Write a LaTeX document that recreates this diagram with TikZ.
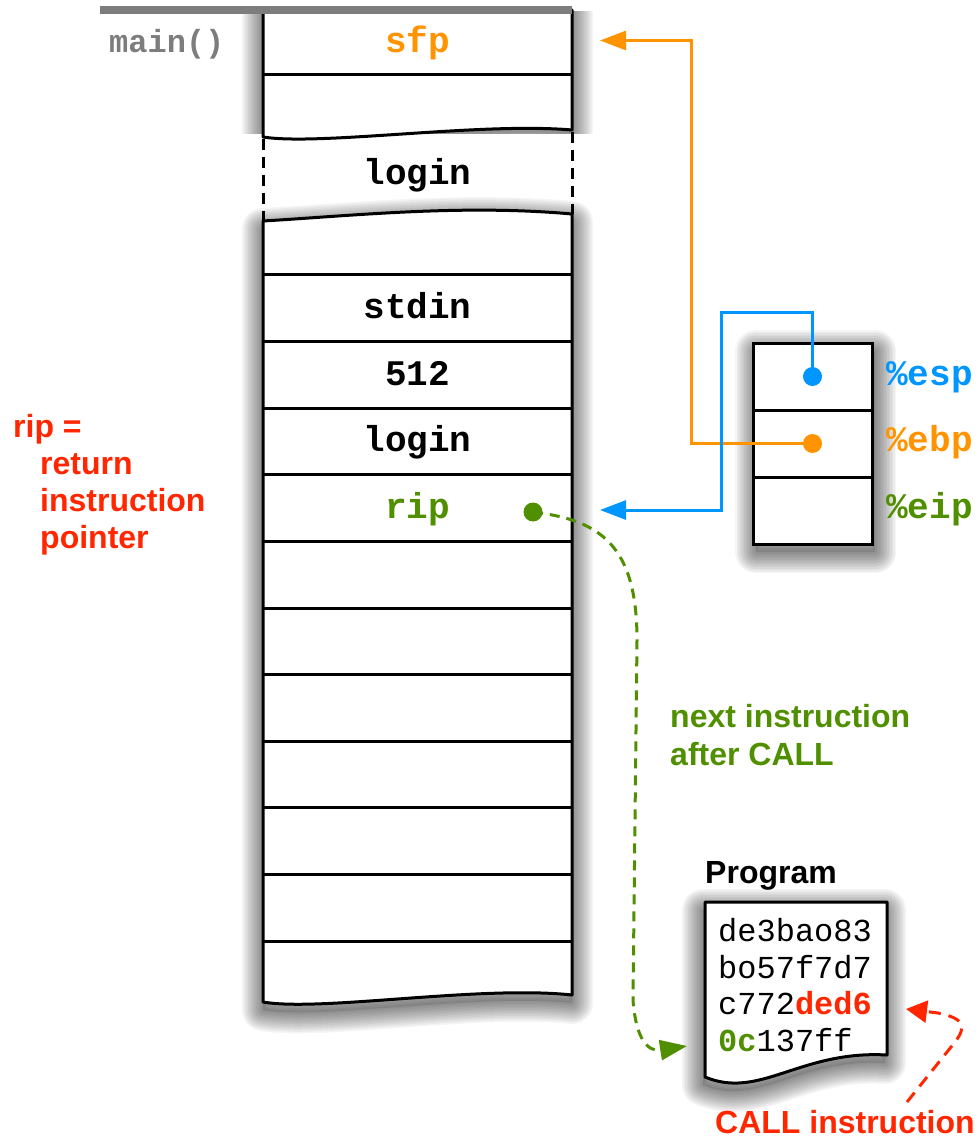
\documentclass[tikz,border=0pt]{standalone}
\usepackage{fontspec}
\setmainfont{Liberation Sans}
\setsansfont{Liberation Sans}
\setmonofont{Liberation Mono}
\usetikzlibrary{arrows.meta}
\definecolor{tang}{RGB}{255,147,0}
\definecolor{aqua}{RGB}{0,150,255}
\definecolor{clover}{RGB}{79,143,0}
\definecolor{redc}{RGB}{255,38,0}
\definecolor{graym}{RGB}{125,125,125}
\newcommand\softshadow[3]{%
  \begin{scope}[shift={#1}]
    \foreach \i in {1,...,14}{%
      \path[draw=black,line width=3*\i pt,draw opacity=0.04,line join=round] #3;
    }
    \path[fill=black,fill opacity=#2] #3;
  \end{scope}}
\def\toppath{(263,10) -- (572,10) -- (572,130) .. controls (480,122) and (320,146) .. (263,137) -- cycle}
\def\lowpath{(263,221) .. controls (350,216) and (460,204) .. (572,214) -- (572,995) .. controls (480,985) and (320,1012) .. (263,1002) -- cycle}
\def\progpath{(705,902) -- (887,902) -- (887,1055) .. controls (800,1050) and (760,1100) .. (705,1077) -- cycle}
\tikzset{
  stackline/.style={line width=3pt, black, line join=round},
  monolbl/.style={font=\fontsize{36}{40}\selectfont\ttfamily\bfseries, inner sep=0pt, anchor=base},
  reglbl/.style={font=\fontsize{36}{40}\selectfont\ttfamily\bfseries, inner sep=0pt, anchor=base west},
  sanslbl/.style={font=\fontsize{32}{36}\selectfont\sffamily\bfseries, inner sep=0pt, anchor=base west},
  codelbl/.style={font=\fontsize{32}{36}\selectfont\ttfamily, inner sep=0pt, anchor=base west},
  pindot/.style={circle, inner sep=0pt, minimum size=19pt},
  regcell/.style={draw, line width=3pt, fill=white, minimum width=119pt, minimum height=67pt, inner sep=0pt},
  conn/.style={line width=3pt},
  greendash/.style={clover, line width=3pt, dash pattern=on 10pt off 7pt},
  reddash/.style={redc, line width=3pt, dash pattern=on 12pt off 8pt},
  sidedash/.style={line width=3pt, dash pattern=on 11pt off 7pt}
}
\begin{document}
\begin{tikzpicture}[x=1pt,y=-1pt]
\useasboundingbox (0,0) rectangle (979,1139);

% ---- stack shadows and bodies
\begin{scope}
  \clip (200,12) rectangle (640,134);
  \softshadow{(0,2)}{0}{\toppath}
\end{scope}
\softshadow{(0,8)}{0.1}{\lowpath}
\path[fill=white] \toppath;
\path[fill=white] \lowpath;
\draw[stackline] \toppath;
\draw[stackline] \lowpath;
\draw[stackline] (263,75) -- (572,75);
\foreach \k in {0,...,10}{
  \draw[stackline] (263,275+66.6*\k) -- (572,275+66.6*\k);
}
\draw[sidedash] (263,139) -- (263,221);
\draw[sidedash] (572,132) -- (572,214);
\draw[graym, line width=8pt] (100,10) -- (572,10);

% ---- stack labels
\node[monolbl, graym, font=\fontsize{32}{36}\selectfont\ttfamily\bfseries, anchor=base west] (mainlbl) at (109,53) {main()};
\node[monolbl, tang] (sfp) at (417.5,53) {sfp};
\node[monolbl] (login1) at (417.5,185) {login};
\node[monolbl] (stdin) at (417.5,318) {stdin};
\node[monolbl] (n512) at (417.5,385) {512};
\node[monolbl] (login2) at (417.5,451) {login};
\node[monolbl, clover] (rip) at (417.5,518) {rip};

% ---- registers
\softshadow{(3,8)}{0.1}{(753,343) rectangle (872,544)}
\node[regcell] (esp) at (812.5,376.5) {};
\node[regcell] (ebp) at (812.5,443.5) {};
\node[regcell] (eip) at (812.5,510.5) {};
\node[reglbl, aqua] (esplbl) at (886,385) {\%esp};
\node[reglbl, tang] (ebplbl) at (886,451) {\%ebp};
\node[reglbl, clover] (eiplbl) at (886,518) {\%eip};

% ---- program
\softshadow{(-2,8)}{0.1}{\progpath}
\path[fill=white] \progpath;
\draw[stackline] \progpath;
\node[sanslbl] (proglbl) at (705,883) {Program};
\node[codelbl] (c1) at (718,941.5) {de3bao83};
\node[codelbl] (c2) at (718,978) {bo57f7d7};
\node[codelbl] (c3) at (718,1014.7) {c772{\bfseries\color{redc}ded6}};
\node[codelbl] (c4) at (718,1051.4) {{\bfseries\color{clover}0c}137ff};

% ---- side texts
\node[sanslbl, redc] (t1) at (13,437) {rip =};
\node[sanslbl, redc] (t2) at (40,474) {return};
\node[sanslbl, redc] (t3) at (40,511) {instruction};
\node[sanslbl, redc] (t4) at (40,548) {pointer};
\node[sanslbl, clover] (g1) at (670,727) {next instruction};
\node[sanslbl, clover] (g2) at (670,765) {after CALL};
\node[sanslbl, redc] (calllbl) at (715,1133) {CALL instruction};

% ---- connectors
\coordinate (sfpin) at (600,40.5);
\coordinate (ebpbend) at (691,40.5);
\coordinate (espbend) at (721,312);
\coordinate (ripin) at (600,510);
\coordinate (progin) at (687,1046);
\coordinate (callfrom) at (907,1102);
\coordinate (dedin) at (906,1009);
\coordinate (ripdotpos) at (533,512);

\draw[conn, tang, -{Triangle[length=26pt,width=19pt]}] (ebp.center) -| (ebpbend) -- (sfpin);
\draw[conn, aqua, -{Triangle[length=26pt,width=19pt]}] (esp.center) |- (espbend) |- (ripin);
\draw[greendash, -{Triangle[length=27pt,width=20pt]}] (ripdotpos) .. controls (600,520) and (637,545) .. (637,640) -- (633,1000) .. controls (636,1040) and (648,1052) .. (progin);
\draw[reddash, -{Triangle[length=21pt,width=22pt]}] (callfrom) -- (955,1042) .. controls (968,1025) and (962,1018) .. (938,1013) -- (dedin);

\node[pindot, fill=aqua] (espdot) at (esp.center) {};
\node[pindot, fill=tang] (ebpdot) at (ebp.center) {};
\node[pindot, fill=clover] (ripdot) at (ripdotpos) {};
\end{tikzpicture}
\end{document}
